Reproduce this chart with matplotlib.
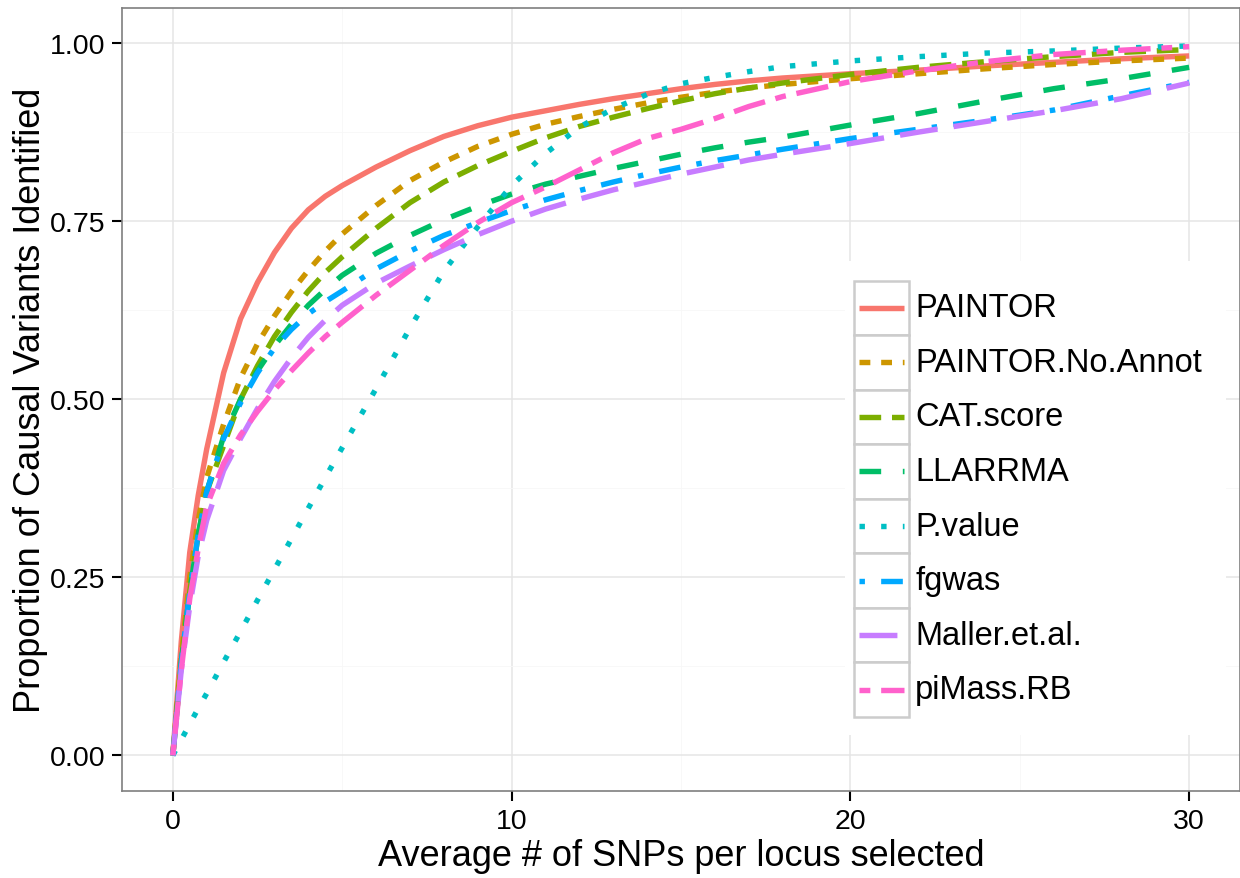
import matplotlib
matplotlib.use("Agg")
import matplotlib.pyplot as plt
from matplotlib.patches import Rectangle
from matplotlib.lines import Line2D
from matplotlib.ticker import MultipleLocator

plt.rcParams['font.family'] = ['Liberation Sans', 'DejaVu Sans']

# ---------------- data ----------------
methods = ["PAINTOR", "PAINTOR.No.Annot", "CAT.score", "LLARRMA",
           "P.value", "fgwas", "Maller.et.al.", "piMass.RB"]

x_grid = [0, 0.25, 0.5, 0.75, 1, 1.5, 2, 2.5, 3, 3.5, 4, 4.5, 5, 6, 7, 8, 9, 10,
          11, 12, 13, 14, 15, 16, 17, 18, 20, 22, 24, 26, 28, 30]

paintor = [0, 0.16, 0.285, 0.365, 0.43, 0.537, 0.613, 0.664, 0.706, 0.74,
           0.766, 0.785, 0.80, 0.826, 0.849, 0.869, 0.884, 0.896, 0.905,
           0.914, 0.922, 0.929, 0.936, 0.942, 0.947, 0.951, 0.957, 0.962,
           0.968, 0.973, 0.978, 0.982]
paintor_no_annot = [0, 0.14, 0.25, 0.33, 0.39, 0.465, 0.53, 0.578, 0.617, 0.651,
                    0.681, 0.708, 0.732, 0.772, 0.807, 0.833, 0.855, 0.872,
                    0.886, 0.897, 0.907, 0.916, 0.924, 0.931, 0.937, 0.942,
                    0.950, 0.957, 0.964, 0.970, 0.975, 0.979]
cat_score = [0, 0.13, 0.23, 0.31, 0.37, 0.435, 0.50, 0.547, 0.588, 0.622,
             0.652, 0.678, 0.70, 0.74, 0.776, 0.805, 0.828, 0.848, 0.867,
             0.883, 0.896, 0.908, 0.919, 0.929, 0.937, 0.944, 0.956, 0.966,
             0.974, 0.981, 0.987, 0.991]
llarrma = [0, 0.13, 0.23, 0.31, 0.37, 0.448, 0.50, 0.54, 0.575, 0.605,
           0.632, 0.654, 0.674, 0.705, 0.73, 0.752, 0.771, 0.788, 0.802,
           0.813, 0.824, 0.834, 0.844, 0.853, 0.861, 0.868, 0.885, 0.901,
           0.919, 0.936, 0.95, 0.966]
p_value = [0, 0.022, 0.044, 0.066, 0.087, 0.131, 0.174, 0.218, 0.261, 0.304,
           0.347, 0.39, 0.432, 0.515, 0.60, 0.68, 0.742, 0.80, 0.845, 0.882,
           0.908, 0.928, 0.943, 0.952, 0.96, 0.967, 0.975, 0.981, 0.986,
           0.989, 0.993, 0.996]
fgwas = [0, 0.13, 0.23, 0.31, 0.37, 0.445, 0.495, 0.537, 0.572, 0.598, 0.62,
         0.637, 0.652, 0.683, 0.708, 0.73, 0.748, 0.765, 0.78, 0.793, 0.805,
         0.816, 0.826, 0.835, 0.843, 0.851, 0.866, 0.879, 0.892, 0.906, 0.926,
         0.945]
maller = [0, 0.12, 0.21, 0.28, 0.33, 0.40, 0.445, 0.487, 0.525, 0.558, 0.587,
          0.611, 0.632, 0.663, 0.687, 0.71, 0.731, 0.75, 0.767, 0.781, 0.794,
          0.805, 0.816, 0.826, 0.836, 0.844, 0.859, 0.875, 0.89, 0.905, 0.922,
          0.944]
pimass = [0, 0.12, 0.22, 0.29, 0.35, 0.41, 0.45, 0.483, 0.513, 0.54, 0.565,
          0.588, 0.608, 0.646, 0.681, 0.716, 0.748, 0.776, 0.798, 0.822,
          0.846, 0.866, 0.879, 0.894, 0.911, 0.925, 0.946, 0.961, 0.974,
          0.984, 0.99, 0.995]

series = [paintor, paintor_no_annot, cat_score, llarrma, p_value, fgwas, maller, pimass]

x_ticks = [0, 10, 20, 30]
y_ticks = [0.00, 0.25, 0.50, 0.75, 1.00]
y_ticklabels = ["0.00", "0.25", "0.50", "0.75", "1.00"]

# ---------------- style ----------------
colors = ["#F8766D", "#CD9600", "#7CAE00", "#00BE67",
          "#00BFC4", "#00A9FF", "#C77CFF", "#FF61CC"]
dashes = [None, (2, 2), (4, 2), (4, 4), (1, 3), (1, 3, 4, 3), (7, 3), (2, 2, 6, 2)]
LW = 3.9

W, H = 1240, 879
fig = plt.figure(figsize=(W / 100, H / 100), dpi=100)
ax = fig.add_axes([122 / W, 1 - 792 / H, (1240 - 122) / W, (792 - 8.5) / H])

for ys, c, d in zip(series, colors, dashes):
    ln, = ax.plot(x_grid, ys, color=c, lw=LW, solid_capstyle='butt',
                  dash_capstyle='butt', solid_joinstyle='round', zorder=3)
    if d is not None:
        ln.set_dashes(d)

ax.set_xlim(-1.5, 31.5)
ax.set_ylim(-0.05, 1.05)
ax.set_xticks(x_ticks)
ax.set_yticks(y_ticks)
ax.set_yticklabels(y_ticklabels)
ax.xaxis.set_minor_locator(MultipleLocator(5))
ax.yaxis.set_minor_locator(MultipleLocator(0.125))
ax.grid(which='major', color='#E5E5E5', lw=1.1, zorder=0)
ax.grid(which='minor', color='#F7F7F7', lw=0.6, zorder=0)
ax.set_axisbelow(True)
for s in ax.spines.values():
    s.set_color('#7F7F7F')
    s.set_linewidth(1.2)
ax.tick_params(which='major', length=7, width=1.5, color='black',
               labelsize=20.5, labelcolor='black', pad=5)
ax.tick_params(which='minor', length=0)

ax.set_xlabel("Average # of SNPs per locus selected", fontsize=26, labelpad=3)
ax.set_ylabel("Proportion of Causal Variants Identified", fontsize=26, labelpad=1)

# ---------------- legend (ggplot style keys) ----------------
lx0, ly0, lx1, ly1 = 845, 262, 1226, 736
lax = fig.add_axes([lx0 / W, 1 - ly1 / H, (lx1 - lx0) / W, (ly1 - ly0) / H])
lax.set_xlim(lx0, lx1)
lax.set_ylim(ly1, ly0)
lax.axis('off')
lax.add_patch(Rectangle((lx0, ly0), lx1 - lx0, ly1 - ly0, facecolor='white',
                        edgecolor='none', zorder=0))
key_top = 281.5
key_h = (718 - 281.5) / len(methods)
for i, (m, c, d) in enumerate(zip(methods, colors, dashes)):
    yt = key_top + i * key_h
    lax.add_patch(Rectangle((853.5, yt), 55.5, key_h, facecolor='white',
                            edgecolor='#CCCCCC', lw=1.8, zorder=1))
    yc = yt + key_h / 2
    ln = Line2D([859, 903.5], [yc, yc], color=c, lw=LW, solid_capstyle='butt',
                dash_capstyle='butt', zorder=2)
    if d is not None:
        ln.set_dashes(d)
    lax.add_line(ln)
    lax.text(915, yc, m, fontsize=23.5, va='center', ha='left', color='black')

fig.savefig("out.png", dpi=100)
